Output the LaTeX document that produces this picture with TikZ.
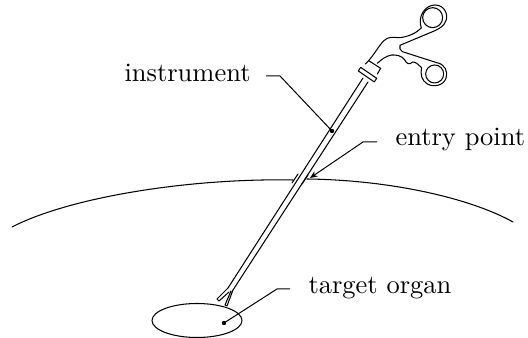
\documentclass[tikz,border=0pt]{standalone}
\usetikzlibrary{arrows.meta}
\tikzset{
  outline/.style={line width=0.42pt, line join=round, line cap=round},
  leader/.style={line width=0.4pt},
  caption/.style={inner sep=0pt, anchor=base west, font=\fontsize{10.6}{12}\selectfont},
}
\begin{document}
\begin{tikzpicture}[x=0.4pt, y=-0.4pt]
\useasboundingbox (0,0) rectangle (528,338);

% body surface, interrupted where the shaft passes through
\draw[outline] (12,227) .. controls (70,197) and (190,178) .. (293,180);
\draw[outline] (307,179) .. controls (390,180) and (470,198) .. (513,222);

% incision marks either side of the shaft
\draw[outline] (292,183) -- (298,174);
\draw[outline] (302,184) -- (308,175);

% target organ
\draw[outline] (197,320.5) ellipse [x radius=45, y radius=17];

% shaft
\draw[outline] (363,78) -- (228,288);
\draw[outline] (368,82) -- (233,290);

% jaws
\draw[outline] (228,288) -- (217,299) -- (219,301) -- (229,292);
\draw[outline] (231,291) -- (225,305) -- (227,306) -- (233,290);

% handle, drawn in a local frame
\begin{scope}[shift={(340,0)}, x=0.1333pt, y=-0.1333pt]
  % collar
  \draw[outline] (62,202) -- (110,235) -- (103,246) -- (55,213) -- cycle;
  \draw[outline] (76,192) -- (86,182) -- (122,205) -- (112,222);
  % upper grip and finger ring
  \draw[outline] (86,182) .. controls (105,160) and (118,135) .. (132,122)
    .. controls (150,106) and (165,114) .. (180,113)
    .. controls (205,110) and (228,100) .. (244,84)
    .. controls (232,50) and (255,15) .. (285,15)
    .. controls (315,15) and (325,45) .. (318,62)
    .. controls (312,78) and (300,85) .. (285,92)
    -- (180,136) .. controls (178,145) and (180,150) .. (187,155)
    -- (290,188);
  \draw[outline] (278,53) ellipse [x radius=30, y radius=30];
  % lower grip and finger ring
  \draw[outline] (290,188) .. controls (315,192) and (325,215) .. (318,235)
    .. controls (310,258) and (280,262) .. (262,252)
    .. controls (245,242) and (240,222) .. (245,203)
    .. controls (235,195) and (228,185) .. (218,186)
    .. controls (208,196) and (200,192) .. (193,178)
    .. controls (185,168) and (170,164) .. (155,165)
    .. controls (138,168) and (125,178) .. (112,190);
  \draw[outline] (284,222) ellipse [x radius=27, y radius=27];
\end{scope}

% captions
\node[caption] (instr) at (124,82) {instrument};
\node[caption] (entry) at (395,146) {entry point};
\node[caption] (organ) at (308,294) {target organ};

% leader anchors
\coordinate (instrKnee) at (280,76);
\coordinate (entryKnee) at (363,142);
\coordinate (organKnee) at (277,289);
\coordinate (instrEnd) at (332,131);
\coordinate (entryEnd) at (310,178);
\coordinate (organEnd) at (224,323);

% leaders
\draw[leader] (instrKnee) ++(-14,0) -- (instrKnee) -- (instrEnd);
\draw[leader, -{Stealth[length=3pt,width=2.5pt]}] (entryKnee) ++(14,0) -- (entryKnee) -- (entryEnd);
\draw[leader] (organKnee) ++(13,0) -- (organKnee) -- (organEnd);
\fill (instrEnd) circle [radius=2.2];
\fill (organEnd) circle [radius=2.2];
\end{tikzpicture}
\end{document}
